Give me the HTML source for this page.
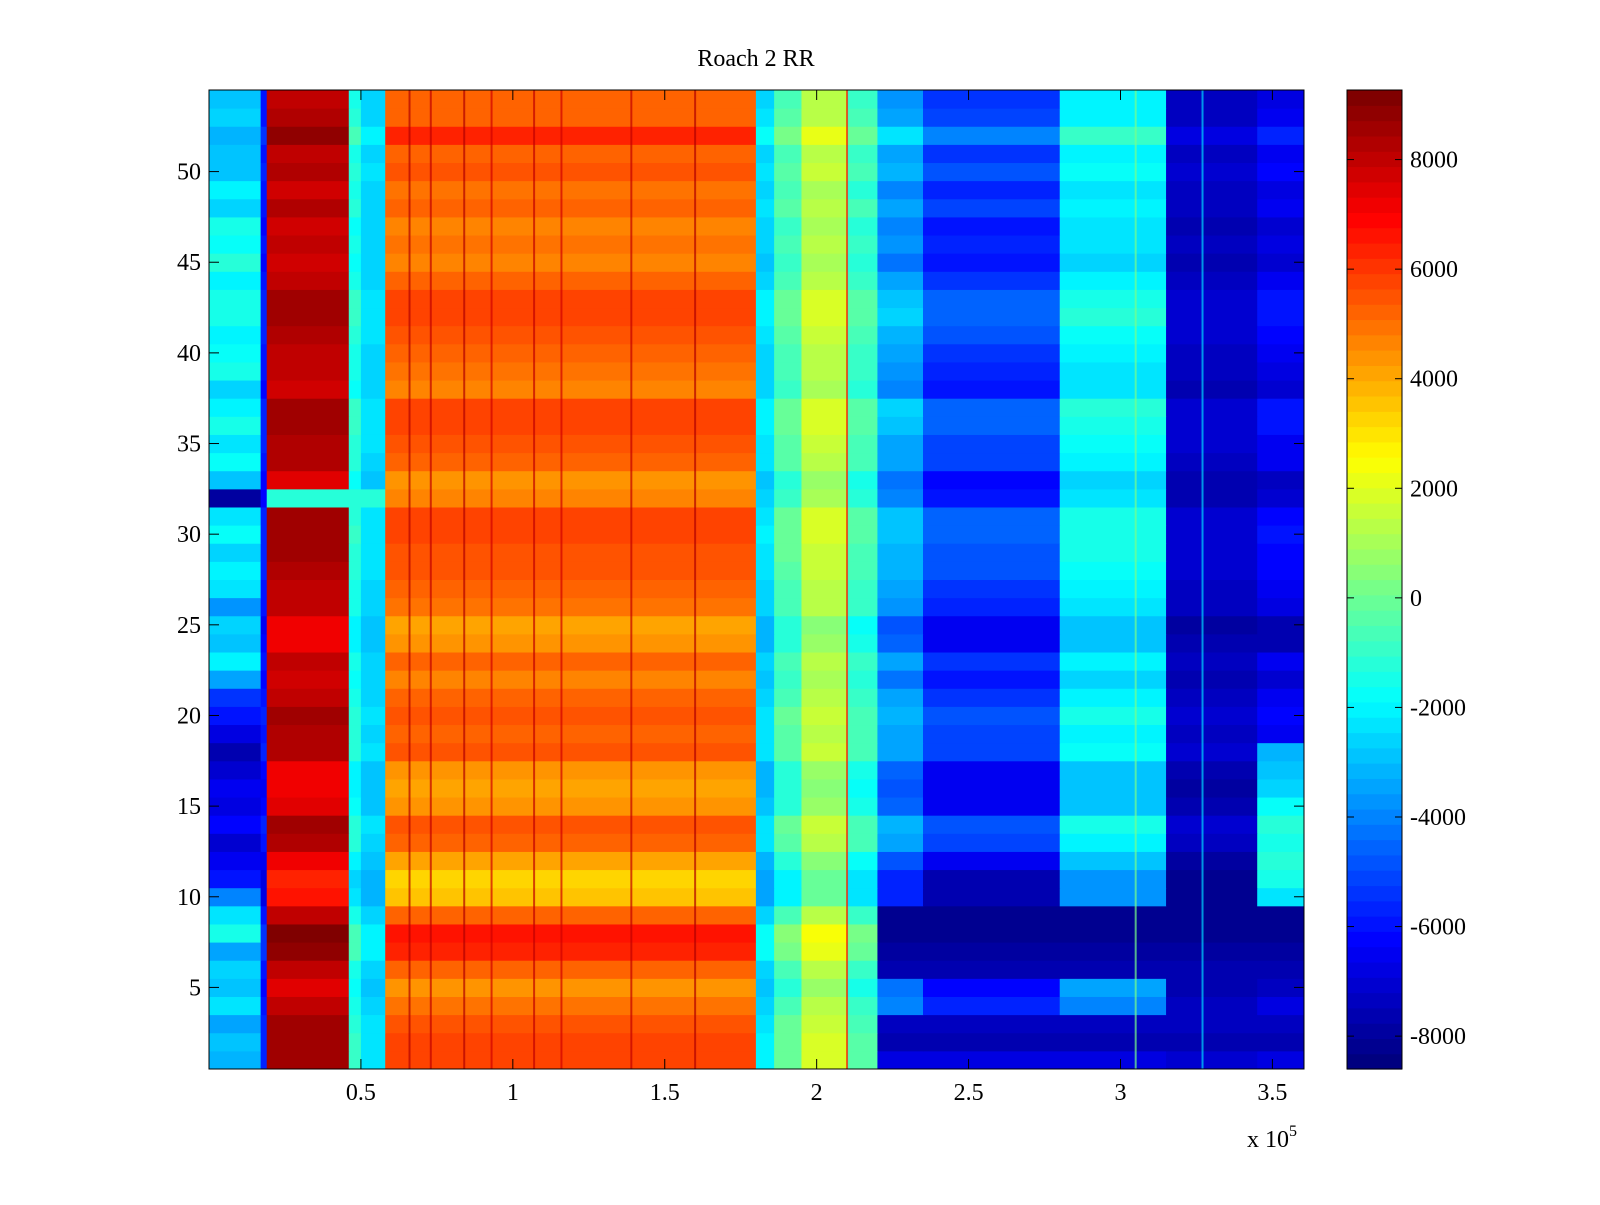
<!DOCTYPE html>
<html><head><meta charset="utf-8"><title>Roach 2 RR</title>
<style>body{margin:0;background:#fff}svg text{font-family:"Liberation Serif",serif;font-size:24px;fill:#000}</style>
</head><body>
<svg id="chart" width="1600" height="1200" viewBox="0 0 1600 1200" xmlns="http://www.w3.org/2000/svg">
<rect width="1600" height="1200" fill="#fff"/>
<text x="756" y="66" text-anchor="middle">Roach 2 RR</text>
<g id="cells"></g>
<g id="stripes"></g>
<g id="cbar"></g>
<g id="axes"></g>
</svg>
<script>
// Data (x in units of 1e5, value in colour units)
const bandEdges = [0, 0.17, 0.19, 0.46, 0.5, 0.58, 1.8, 1.86, 1.95, 2.1, 2.2, 2.35, 2.8, 3.15, 3.45, 3.604];
const bandBase = [-3000, -6000, 7900, -1500, -2600, 5000, -2600, -700, 1200, -1000, -3800, -5600, -2200, -7400, -6800];
const bandScale = [1.0, 0.5, 0.9, 0.6, 0.4, 1.0, 0.6, 0.8, 0.8, 0.8, 1.2, 1.3, 1.0, 0.5, 1.0];
const rowOffset = [800,800,600,0,-500,200,1200,1500,200,-1500,-1600,-800,300,600,-600,-800,-700,400,300,600,200,-300,200,-700,-800,0,200,500,600,800,700,-200,-500,300,400,800,900,-200,0,200,500,900,800,200,-300,0,-200,300,-100,500,200,1200,300,100];
const leftColumn = [-3200,-2800,-3500,-2400,-3000,-2600,-3300,-1500,-2200,-4000,-6000,-6500,-7000,-6200,-6800,-6500,-7200,-7500,-6800,-6000,-5500,-3500,-2000,-3000,-2500,-3800,-2200,-2000,-2500,-1800,-2300,-8000,-2800,-1800,-2200,-1600,-2000,-2600,-1500,-1800,-2000,-1400,-1600,-2000,-1200,-1700,-1400,-2500,-1900,-3000,-2800,-3200,-2500,-3000];
const bottomRightBlue = [-6800,-7500,-7400,-4000,-3500,-7600,-8000,-8200,-8300];
const farRightMid = [-2200,-1500,-1200,-1500,-1200,-1800,-2500,-2800,-3200];
const row32Red = -1200;
const stripeX = [0.66,0.73,0.84,0.93,1.07,1.16,1.39,1.60,2.10,3.05,3.27];
const stripeVal = [8200,8000,8200,7800,8000,7800,8000,8400,6500,200,-2500];
const cbarTicks = [8000,6000,4000,2000,0,-2000,-4000,-6000,-8000];
const xTicks = [0.5,1,1.5,2,2.5,3,3.5];
const yTicks = [5,10,15,20,25,30,35,40,45,50];
const cmin = -8600, cmax = 9270;

const L=209,R=1304,T=90,B=1069, xMax=3.604;
const xs = v => L + v/xMax*(R-L);
const ys = v => B - (v-0.5)/54*(B-T);
function jet(t){t=Math.max(0,Math.min(1,t));t=Math.floor(t*63.999)/63;
 const f=x=>Math.max(0,Math.min(1,1.5-Math.abs(4*t-x)));
 return `rgb(${Math.round(f(3)*255)},${Math.round(f(2)*255)},${Math.round(f(1)*255)})`;}
const col = v => jet((v-cmin)/(cmax-cmin));
const NS="http://www.w3.org/2000/svg";
const cells=document.getElementById('cells');
for(let r=0;r<54;r++){
 for(let b=0;b<bandBase.length;b++){
  let v=bandBase[b]+rowOffset[r]*bandScale[b];
  if(b===0) v=leftColumn[r];
  if(r===31 && b>=2 && b<=4) v=row32Red;
  if(r<9 && b>=10) v=Math.min(v,bottomRightBlue[r]);
  if(r>=9 && r<18 && b===14) v=farRightMid[r-9];
  const x0=xs(bandEdges[b]),x1=xs(bandEdges[b+1]);
  const y1=ys(r+0.5),y0=ys(r+1.5);
  const el=document.createElementNS(NS,'rect');
  
  
  el.setAttribute('x',x0);el.setAttribute('y',y0);
  el.setAttribute('width',x1-x0+0.5);el.setAttribute('height',y1-y0+0.5);
  el.setAttribute('fill',col(v));
  cells.appendChild(el);
 }
}
const sg=document.getElementById('stripes');
stripeX.forEach((sx,i)=>{
 const el=document.createElementNS(NS,'rect');
 
 
 el.setAttribute('x',xs(sx)-1);el.setAttribute('y',T);el.setAttribute('width',2);el.setAttribute('height',B-T);
 el.setAttribute('fill',col(stripeVal[i]));el.setAttribute('opacity','0.7');
 sg.appendChild(el);
});
// colorbar
const cb=document.getElementById('cbar');
const CL=1347,CR=1402;
for(let i=0;i<64;i++){
 const el=document.createElementNS(NS,'rect');
 
 
 const h=(B-T)/64;
 el.setAttribute('x',CL);el.setAttribute('y',B-(i+1)*h);el.setAttribute('width',CR-CL);el.setAttribute('height',h+0.6);
 el.setAttribute('fill',jet(i/63));cb.appendChild(el);
}
const cy=v=>B-(v-cmin)/(cmax-cmin)*(B-T);
let ax='';
cbarTicks.forEach(v=>{const y=cy(v);
 ax+=`<line x1="${CL}" x2="${CL+7}" y1="${y}" y2="${y}" stroke="#000"/><line x1="${CR-7}" x2="${CR}" y1="${y}" y2="${y}" stroke="#000"/>`;
 ax+=`<text x="${CR+8}" y="${y+8}">${v}</text>`;});
ax+=`<rect x="${CL}" y="${T}" width="${CR-CL}" height="${B-T}" fill="none" stroke="#000"/>`;
xTicks.forEach(v=>{const x=xs(v);
 ax+=`<line x1="${x}" x2="${x}" y1="${B}" y2="${B-10}" stroke="#000"/><line x1="${x}" x2="${x}" y1="${T}" y2="${T+10}" stroke="#000"/>`;
 ax+=`<text x="${x}" y="${B+31}" text-anchor="middle">${v}</text>`;});
yTicks.forEach(v=>{const y=ys(v);
 ax+=`<line x1="${L}" x2="${L+10}" y1="${y}" y2="${y}" stroke="#000"/><line x1="${R-10}" x2="${R}" y1="${y}" y2="${y}" stroke="#000"/>`;
 ax+=`<text x="${L-8}" y="${y+8}" text-anchor="end">${v}</text>`;});
ax+=`<rect x="${L}" y="${T}" width="${R-L}" height="${B-T}" fill="none" stroke="#000"/>`;
ax+=`<text x="1247" y="1147">x 10<tspan dy="-11" font-size="16">5</tspan></text>`;
document.getElementById('axes').innerHTML=ax;
</script>
</body></html>
